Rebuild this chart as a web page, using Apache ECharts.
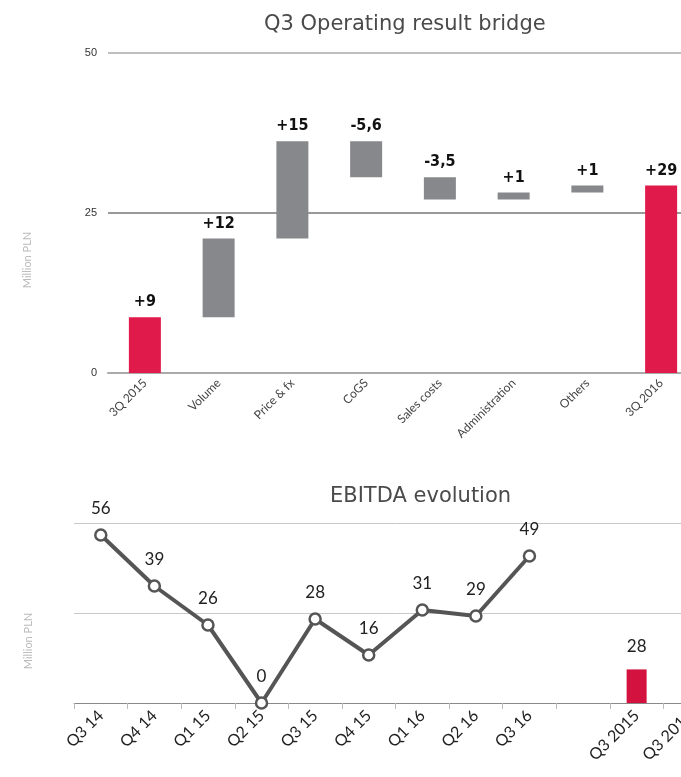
<!DOCTYPE html>
<html>
<head>
<meta charset="utf-8">
<script src="https://cdn.jsdelivr.net/npm/echarts@6/dist/echarts.min.js"></script>
<style>
  html, body { margin: 0; padding: 0; background: #fff; overflow: hidden; }
  /* the plots run past the right edge of the page, so the canvas is a bit wider than the window */
  #chart { width: 717px; height: 777px; }
</style>
</head>
<body>
<div id="chart"></div>
<script>
// bridge (waterfall) data
var bridge_cats = ['3Q 2015', 'Volume', 'Price & fx', 'CoGS', 'Sales costs', 'Administration', 'Others', '3Q 2016'];
var bridge_vals = [8.7, 12.3, 15.2, -5.6, -3.5, 1.1, 1.1, 29.3]; // first and last are totals
var bridge_labels = ['+9', '+12', '+15', '-5,6', '-3,5', '+1', '+1', '+29'];
var bridge_ticks = [0, 25, 50];

// EBITDA evolution data
var ebitda_cats = ['Q3 14', 'Q4 14', 'Q1 15', 'Q2 15', 'Q3 15', 'Q4 15', 'Q1 16', 'Q2 16', 'Q3 16', '', 'Q3 2015', 'Q3 2016'];
var ebitda_line = [56, 39, 26, 0, 28, 16, 31, 29, 49, null, null, null];
var ebitda_bar = [null, null, null, null, null, null, null, null, null, null, 28, null];

var RED = '#e01a4b';
var GREY = '#87888b';

var chart = echarts.init(document.getElementById('chart'));

// build invisible base + visible part for the waterfall
var base_arr = [];
var step_arr = [];
var running = 0;
for (let i = 0; i < bridge_vals.length; i++) {
    var v = bridge_vals[i];
    var total = (i == 0 || i == bridge_vals.length - 1);
    if (total) {
        base_arr.push(0);
        step_arr.push({ value: v, itemStyle: { color: RED } });
        running = v;
    } else {
        if (v >= 0) {
            base_arr.push(running);
        } else {
            base_arr.push(running + v);
        }
        step_arr.push({ value: Math.abs(v), itemStyle: { color: GREY } });
        running = running + v;
    }
}

var option = {
    animation: false,
    title: [
        {
            text: 'Q3 Operating result bridge',
            left: 259,
            top: 9,
            textStyle: { fontFamily: 'DejaVu Sans', fontSize: 21, fontWeight: 'normal', color: '#4a4a4a' }
        },
        {
            text: 'EBITDA evolution',
            left: 325,
            top: 481,
            textStyle: { fontFamily: 'DejaVu Sans', fontSize: 21, fontWeight: 'normal', color: '#4a4a4a' }
        }
    ],
    grid: [
        { left: 108, right: 19, top: 53, height: 320 },
        { left: 74, right: 0, top: 523, height: 180 }
    ],
    xAxis: [
        {
            type: 'category',
            gridIndex: 0,
            data: bridge_cats,
            axisLine: { lineStyle: { color: '#aaa', width: 2 } },
            axisTick: { show: false },
            axisLabel: { rotate: 45, fontSize: 12, color: '#444', fontFamily: 'Lato', margin: 8, interval: 0 }
        },
        {
            type: 'category',
            gridIndex: 1,
            data: ebitda_cats,
            axisLine: { lineStyle: { color: '#888', width: 1 } },
            axisTick: { show: true, length: 6, lineStyle: { color: '#bbb' } },
            axisLabel: { rotate: 45, fontSize: 16, color: '#222', fontFamily: 'Lato', margin: 10, interval: 0 }
        }
    ],
    yAxis: [
        {
            type: 'value',
            gridIndex: 0,
            min: bridge_ticks[0],
            max: bridge_ticks[2],
            interval: 25,
            name: 'Million PLN',
            nameLocation: 'middle',
            nameGap: 75,
            nameTextStyle: { color: '#bbb', fontSize: 11, fontFamily: 'Lato', padding: [0, 94, 0, 0] },
            axisLine: { show: false },
            axisTick: { show: false },
            axisLabel: { fontSize: 11, color: '#333', margin: 11, fontFamily: 'Liberation Sans' },
            splitLine: { lineStyle: { color: ['#aaa', '#777', '#aaa'], width: 1.5 } }
        },
        {
            type: 'value',
            gridIndex: 1,
            min: 0,
            max: 60,
            interval: 30,
            name: 'Million PLN',
            nameLocation: 'middle',
            nameGap: 40,
            nameTextStyle: { color: '#bbb', fontSize: 11, fontFamily: 'Lato', padding: [0, 56, 0, 0] },
            axisLine: { show: false },
            axisTick: { show: false },
            axisLabel: { show: false },
            splitLine: { lineStyle: { color: '#c8c8c8', width: 1 } }
        },
        {
            type: 'value',
            gridIndex: 1,
            min: 0,
            max: 150,
            show: false,
            splitLine: { show: false }
        }
    ],
    series: [
        {
            name: 'base',
            type: 'bar',
            xAxisIndex: 0,
            yAxisIndex: 0,
            stack: 'bridge',
            barWidth: 32,
            itemStyle: { color: 'transparent' },
            data: base_arr,
            silent: true
        },
        {
            name: 'step',
            type: 'bar',
            xAxisIndex: 0,
            yAxisIndex: 0,
            stack: 'bridge',
            barWidth: 32,
            data: step_arr,
            label: {
                show: true,
                position: 'top',
                distance: 7,
                fontFamily: '"DejaVu Sans Condensed", "Liberation Sans", sans-serif',
                fontWeight: 'bold',
                fontSize: 16,
                color: '#111',
                formatter: function (p) { return bridge_labels[p.dataIndex]; }
            }
        },
        {
            name: 'EBITDA',
            type: 'line',
            xAxisIndex: 1,
            yAxisIndex: 1,
            data: ebitda_line,
            symbol: 'circle',
            symbolSize: 11,
            itemStyle: { color: '#fff', borderColor: '#555', borderWidth: 2.5 },
            lineStyle: { color: '#555', width: 4 },
            label: {
                show: true,
                position: 'top',
                distance: 11,
                fontSize: 17,
                fontFamily: 'Lato',
                color: '#222'
            },
            z: 3
        },
        {
            name: 'EBITDA quarter',
            type: 'bar',
            xAxisIndex: 1,
            yAxisIndex: 2,
            data: ebitda_bar,
            barWidth: 20,
            itemStyle: { color: '#d3123f' },
            label: {
                show: true,
                position: 'top',
                distance: 14,
                fontSize: 17,
                fontFamily: 'Lato',
                color: '#222'
            }
        }
    ]
};

chart.setOption(option);
</script>
</body>
</html>
